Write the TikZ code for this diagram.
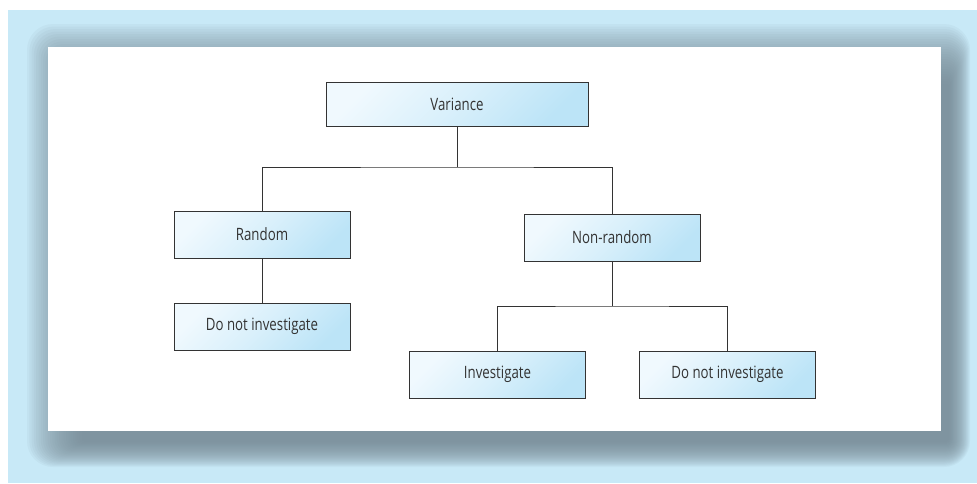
\documentclass[tikz,border=0pt]{standalone}
\usepackage{fontspec}
\setmainfont[FakeStretch=0.78]{Open Sans}
\definecolor{bgblue}{HTML}{C8E9F7}
\definecolor{shadowcol}{HTML}{778A96}
\definecolor{boxlight}{HTML}{F0F9FE}
\definecolor{boxblue}{HTML}{BCE4F7}
\definecolor{inkgray}{HTML}{333333}
\begin{document}
\begin{tikzpicture}[x=1pt,y=-1pt,
  treebox/.style={draw=inkgray, line width=1pt, text=inkgray,
    top color=boxlight, bottom color=boxblue, middle color=boxlight!55!boxblue,
    shading angle=45, minimum width=176pt, minimum height=47pt,
    inner sep=0pt, font=\fontsize{17}{20}\selectfont},
  link/.style={draw=inkgray, line width=0.8pt}]
\useasboundingbox (0,0) rectangle (977,483);
% page and backdrop
\fill[white] (0,0) rectangle (977,483);
\fill[bgblue] (8,10) rectangle (977,483);
% soft drop shadow behind the panel, heavier towards the lower right
\foreach \i [evaluate=\i as \r using 26-\i,
             evaluate=\i as \xl using 27+2.3*\i,
             evaluate=\i as \yt using 24+2.5*\i,
             evaluate=\i as \xr using 970-0.9*\i,
             evaluate=\i as \yb using 467-1.08*\i] in {0,...,24}
  \fill[shadowcol, opacity=0.07, rounded corners=\r pt]
    (\xl,\yt) rectangle (\xr,\yb);
% white panel
\fill[white] (48,47) rectangle (941,431);

% boxes
\node[treebox, minimum width=262pt, minimum height=44pt] (var) at (457,104) {Variance};
\node[treebox] (rand) at (262,234.5) {Random};
\node[treebox] (nonrand) at (612,237.5) {Non-random};
\node[treebox] (dni1) at (262,326.5) {Do not investigate};
\node[treebox] (inv) at (497.5,374.5) {Investigate};
\node[treebox] (dni2) at (727.5,374.5) {Do not investigate};

% connectors
\coordinate (j1) at (457,167);
\coordinate (j2) at (612,306);
\draw[link] (var.south) -- (j1);
\draw[link] (rand.north) |- (j1) -| (nonrand.north);
\draw[link] (rand.south) -- (dni1.north);
\draw[link] (nonrand.south) -- (j2);
\draw[link] (inv.north) |- (j2) -| (dni2.north);
\end{tikzpicture}
\end{document}
